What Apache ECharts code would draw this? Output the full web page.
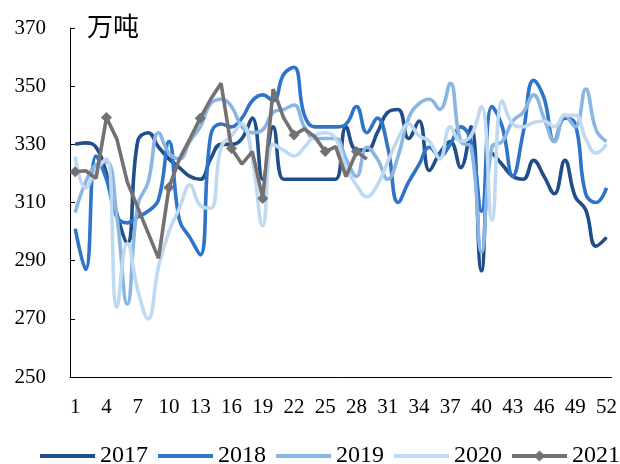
<!DOCTYPE html>
<html>
<head>
<meta charset="utf-8">
<script src="https://cdn.jsdelivr.net/npm/echarts@6/dist/echarts.min.js"></script>
<style>
  html, body { margin: 0; padding: 0; background: #fff; }
  #chart { width: 620px; height: 464px; }
</style>
</head>
<body>
<div id="chart"></div>
<script>
// Weekly output (万吨), weeks 1–52, one array per year
const weeks = Array.from({ length: 52 }, (_, i) => String(i + 1));

const y2017 = [330, 330.5, 329, 320, 306, 296, 331, 334, 329, 325,
  322, 319, 318, 325, 330, 330, 332, 339, 318, 336,
  318, 318, 318, 318, 318, 318, 336, 328, 328, 334,
  341, 342, 332, 338, 321, 327, 331, 322, 336, 286.5,
  327, 323, 319, 318, 324.5, 319, 313, 324.5, 312, 307.5,
  295, 298];

const y2018 = [301, 287, 326, 318, 305, 303, 305, 307, 311, 331,
  304, 298, 292, 333, 337, 336, 339, 345, 347, 345,
  354, 356.5, 340, 336, 336, 336, 337, 343, 334, 339,
  329, 310, 317, 323, 329, 326, 330, 336, 331, 307,
  343, 336, 319, 334, 352, 346, 331, 339, 337, 313,
  310, 315];

const y2019 = [306.5, 317, 323, 324, 305, 275, 309, 317, 334, 327,
  325, 331, 336, 344, 345.5, 343, 336, 334, 335, 341,
  342, 343.5, 336, 332, 332, 332, 325, 319, 329, 325,
  318, 326, 339, 344, 345.5, 342, 351, 331, 329, 293,
  329, 331, 338, 341, 347, 339, 331, 340, 336, 349,
  335, 331];

const y2020 = [325.8, 315, 321, 325, 274, 296, 280, 270, 288, 300,
  308, 316, 309, 308, 329, 333, 337, 325, 302, 330,
  328, 326, 329, 333, 334, 332, 322, 316, 312, 316,
  324, 332, 337, 333, 331, 325, 336, 331, 333, 343,
  304, 345, 337, 336, 337.5, 338, 336, 340, 340, 332,
  327, 330];

// weeks 7–8 of 2021 have no reading; the line joins week 6 to week 9
const y2021 = [320.6, 320.9, 318.3, 339.2, 331.8, 317, null, null, 290.8, 315.2,
  324.9, 331.8, 339, 345.5, 351, 328.6, 323.2, 327.5, 311.4, 349,
  339.2, 333.2, 335.3, 332.6, 327.5, 329.2, 318.9, 327.5, 324.9];

const yearNames = ['2017', '2018', '2019', '2020', '2021'];
const yearColors = ['#1f4e8a', '#2e75c9', '#8ab6e3', '#bfd9f0', '#737171'];

const serif = '"Liberation Serif", "Times New Roman", serif';

function smoothLine(name, data, color) {
  return {
    name, type: 'line', data, smooth: 0.45,
    symbol: 'none', showSymbol: false,
    lineStyle: { width: 3.6, color },
    itemStyle: { color }
  };
}

// plain-line legend entries: keep the stroke, hide the marker
const noMarker = { color: 'rgba(0,0,0,0)', borderColor: 'rgba(0,0,0,0)', borderWidth: 0 };

const chart = echarts.init(document.getElementById('chart'), null, { renderer: 'canvas' });

chart.setOption({
  animation: false,
  backgroundColor: '#fff',
  grid: { left: 70, right: 7, top: 28, bottom: 87, containLabel: false },
  graphic: [{
    type: 'text', left: 87, top: 13,
    style: { text: '万吨', font: '26px "Noto Sans CJK SC"', fill: '#000' }
  }],
  legend: {
    top: 444, left: 38, width: 582, padding: 0,
    itemWidth: 55, itemHeight: 14, itemGap: 8,
    lineStyle: { width: 4 },
    textStyle: { fontFamily: serif, fontSize: 24, color: '#000' },
    data: [
      { name: '2017', itemStyle: noMarker },
      { name: '2018', itemStyle: noMarker },
      { name: '2019', itemStyle: noMarker },
      { name: '2020', itemStyle: noMarker },
      { name: '2021' }
    ]
  },
  xAxis: {
    type: 'category', data: weeks, boundaryGap: true,
    axisLine: { lineStyle: { color: '#000', width: 1 } },
    axisTick: { inside: true, interval: 2, length: 5, lineStyle: { color: '#000' } },
    axisLabel: { interval: 2, margin: 20, fontFamily: serif, fontSize: 21, color: '#000' },
    splitLine: { show: false }
  },
  yAxis: {
    type: 'value', min: 250, max: 370, interval: 20,
    axisLine: { show: true, lineStyle: { color: '#000', width: 1 } },
    axisTick: { show: true, inside: true, length: 5, lineStyle: { color: '#000' } },
    axisLabel: { margin: 24, fontFamily: serif, fontSize: 21, color: '#000' },
    splitLine: { show: false }
  },
  series: [
    smoothLine('2017', y2017, yearColors[0]),
    smoothLine('2018', y2018, yearColors[1]),
    smoothLine('2019', y2019, yearColors[2]),
    smoothLine('2020', y2020, yearColors[3]),
    {
      name: '2021', type: 'line', data: y2021, smooth: false, connectNulls: true,
      symbol: 'diamond', symbolSize: 11, showSymbol: true,
      lineStyle: { width: 3.6, color: yearColors[4] },
      itemStyle: { color: yearColors[4] },
      z: 5
    }
  ]
});
</script>
</body>
</html>
